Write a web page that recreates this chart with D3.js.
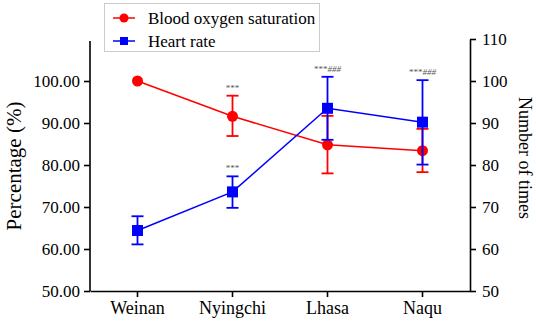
<!DOCTYPE html>
<html><head><meta charset="utf-8">
<script src="https://cdn.jsdelivr.net/npm/d3@7"></script>
<style>body{margin:0;background:#fff}svg{display:block}</style>
</head><body><svg id="c" width="536" height="325"></svg>
<script>
const categories = ["Weinan", "Nyingchi", "Lhasa", "Naqu"];
const oxygenMean = [100, 91.6, 84.8, 83.4];
const oxygenHigh = [100, 96.5, 91.7, 88.6];
const oxygenLow = [100, 86.9, 78.0, 78.3];
const heartMean = [64.4, 73.6, 93.5, 90.2];
const heartHigh = [67.8, 77.3, 101.0, 100.2];
const heartLow = [61.1, 69.8, 86.0, 80.1];
const annotOxygen = ["", "***", "", ""];
const annotHeart = ["", "***", "***###", "***###"];
const leftTicks = [50, 60, 70, 80, 90, 100];
const rightTicks = [50, 60, 70, 80, 90, 100, 110];
const seriesNames = ["Blood oxygen saturation", "Heart rate"];

const FONT = "'Liberation Serif', Tinos, 'Noto Serif', serif";
const svg = d3.select("#c");
const x = d3.scaleBand().domain(categories).range([90, 470]);
const yL = d3.scaleLinear().domain([50, 110]).range([291, 39]);
const yR = d3.scaleLinear().domain([50, 110]).range([291, 39]);
const cx = d => x(d) + x.bandwidth() / 2;

const gL = svg.append("g").attr("transform", "translate(90,0)")
  .call(d3.axisLeft(yL).tickValues(leftTicks).tickFormat(d3.format(".2f")).tickSize(6).tickSizeOuter(0));
const gR = svg.append("g").attr("transform", "translate(470,0)")
  .call(d3.axisRight(yR).tickValues(rightTicks).tickFormat(d3.format("d")).tickSize(6).tickSizeOuter(0));
const gB = svg.append("g").attr("transform", "translate(0,291)")
  .call(d3.axisBottom(x).tickSize(6).tickSizeOuter(0));
[gL, gR, gB].forEach(g => {
  g.attr("font-family", FONT);
  g.selectAll("path.domain").attr("stroke", "#000").attr("stroke-width", 1.6);
  g.selectAll(".tick line").attr("stroke", "#000").attr("stroke-width", 1.6);
  g.selectAll("text").attr("fill", "#000").attr("font-family", FONT).attr("font-size", 17);
});
gL.selectAll("text").attr("x", -10);
gR.selectAll("text").attr("x", 12);
gB.selectAll("text").attr("y", 10).attr("font-size", 18);
gL.select("path.domain").attr("d", `M0,${yL(109.5)}V${yL(50)}`);

svg.append("text").attr("x", 0).attr("y", 0).attr("transform", "translate(21,166) rotate(-90)")
  .attr("text-anchor", "middle").attr("font-size", 21).text("Percentage (%)");
svg.append("text").attr("x", 0).attr("y", 0).attr("transform", "translate(519,158) rotate(90)")
  .attr("text-anchor", "middle").attr("font-size", 18).text("Number of times");

function drawSeries(mean, hi, lo, yS, color, shape) {
  const g = svg.append("g");
  g.append("path").datum(categories)
    .attr("fill", "none").attr("stroke", color).attr("stroke-width", 1.5)
    .attr("d", d3.line().x(d => cx(d)).y((d, i) => yS(mean[i])));
  categories.forEach((c, i) => {
    if (hi[i] !== lo[i]) {
      g.append("line").attr("x1", cx(c)).attr("x2", cx(c)).attr("y1", yS(hi[i])).attr("y2", yS(lo[i]))
        .attr("stroke", color).attr("stroke-width", 1.8);
      [hi[i], lo[i]].forEach(v => g.append("line").attr("x1", cx(c) - 6).attr("x2", cx(c) + 6)
        .attr("y1", yS(v)).attr("y2", yS(v)).attr("stroke", color).attr("stroke-width", 1.8));
    }
    if (shape === "circle") g.append("circle").attr("cx", cx(c)).attr("cy", yS(mean[i])).attr("r", 5.5).attr("fill", color);
    else g.append("rect").attr("x", cx(c) - 5.5).attr("y", yS(mean[i]) - 5.5).attr("width", 11).attr("height", 11).attr("fill", color);
  });
}
drawSeries(oxygenMean, oxygenHigh, oxygenLow, yL, "#ff0000", "circle");
drawSeries(heartMean, heartHigh, heartLow, yR, "#0000ff", "square");

function annot(labels, hi, yS) {
  categories.forEach((c, i) => {
    if (!labels[i]) return;
    const t = svg.append("text").attr("x", cx(c)).attr("y", yS(hi[i]) - 5)
      .attr("text-anchor", "middle").attr("fill", "#555").attr("font-size", 9);
    const m = labels[i].match(/^(\**)(#*)$/);
    t.append("tspan").text(m[1]);
    if (m[2]) t.append("tspan").attr("font-style", "italic").text(m[2]);
  });
}
annot(annotOxygen, oxygenHigh, yL);
annot(annotHeart, heartHigh, yR);

const lg = svg.append("g");
lg.append("rect").attr("x", 104.5).attr("y", 3.5).attr("width", 215).attr("height", 48)
  .attr("fill", "#fff").attr("stroke", "#ccc").attr("stroke-width", 1);
const colors = ["#ff0000", "#0000ff"];
seriesNames.forEach((n, i) => {
  const yy = 18 + i * 23;
  lg.append("line").attr("x1", 113).attr("x2", 135).attr("y1", yy).attr("y2", yy).attr("stroke", colors[i]).attr("stroke-width", 1.5);
  if (i === 0) lg.append("circle").attr("cx", 124).attr("cy", yy).attr("r", 4.5).attr("fill", colors[i]);
  else lg.append("rect").attr("x", 120).attr("y", yy - 4).attr("width", 8).attr("height", 8).attr("fill", colors[i]);
  lg.append("text").attr("x", 148).attr("y", yy + 6).attr("font-size", 17).text(n);
});

// render every label at a large font size and scale it down (keeps the serif face at small sizes)
svg.selectAll("text").each(function () {
  const t = d3.select(this);
  const size = +t.attr("font-size");
  const K = 40 / size;
  const tx = +(t.attr("x") || 0), ty = +(t.attr("y") || 0);
  const tr = t.attr("transform") || "";
  t.attr("font-family", FONT).attr("font-size", size * K)
    .attr("x", tx * K).attr("y", ty * K)
    .attr("transform", (tr ? tr + " " : "") + `scale(${1 / K})`);
});
</script></body></html>
